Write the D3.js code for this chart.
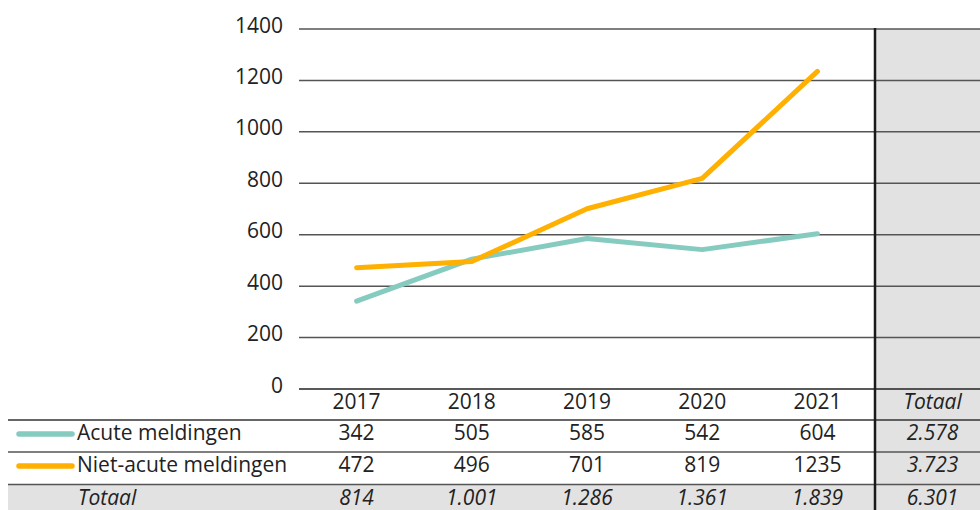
<!DOCTYPE html>
<html>
<head>
<meta charset="utf-8">
<script src="https://cdn.jsdelivr.net/npm/d3@7"></script>
<style>
  body { margin: 0; background: #fff; }
  svg { display: block; font-family: "Open Sans", "Noto Sans", sans-serif; }
</style>
</head>
<body>
<div id="chart"></div>
<script>
// Datos
const jaren = ["2017", "2018", "2019", "2020", "2021"];
const acute = [342, 505, 585, 542, 604];
const nietAcute = [472, 496, 701, 819, 1235];
const totaalPerJaar = ["814", "1.001", "1.286", "1.361", "1.839"];
const totaalAcute = "2.578";
const totaalNietAcute = "3.723";
const totaalAlles = "6.301";
const yTicks = [0, 200, 400, 600, 800, 1000, 1200, 1400];

const series = [
  { naam: "Acute meldingen", waarden: acute, totaal: totaalAcute, kleur: "#86cbc0" },
  { naam: "Niet-acute meldingen", waarden: nietAcute, totaal: totaalNietAcute, kleur: "#ffb000" }
];

const width = 980, height = 510;
const fs = 21;
const svg = d3.select("#chart").append("svg")
  .attr("width", width).attr("height", height);

const kolommen = [...jaren, "Totaal"];
const x = d3.scaleBand().domain(kolommen).range([299, 990.2]);
const y = d3.scaleLinear().domain([0, 1400]).range([389, 29]);

const tableLeft = 8;
const rijen = { header: 403, r1: 434, r2: 466, tot: 499 };

// grijze totaal-kolom
svg.append("rect")
  .attr("x", x("Totaal")).attr("y", y(1400))
  .attr("width", width - x("Totaal")).attr("height", height - y(1400))
  .attr("fill", "#e2e2e2");

// grijze totaal-rij
svg.append("rect")
  .attr("x", tableLeft).attr("y", 485)
  .attr("width", width - tableLeft).attr("height", height - 485)
  .attr("fill", "#e2e2e2");

// rasterlijnen
svg.append("g").selectAll("line").data(yTicks).join("line")
  .attr("x1", 299).attr("x2", width)
  .attr("y1", d => y(d)).attr("y2", d => y(d))
  .attr("stroke", d => d === 0 ? "#222" : "#555")
  .attr("stroke-width", 1.5);

// y-as labels
svg.append("g").selectAll("text").data(yTicks).join("text")
  .attr("x", 283).attr("y", d => y(d) - 2)
  .attr("text-anchor", "end").attr("dominant-baseline", "middle")
  .attr("font-size", fs).attr("fill", "#222")
  .text(d => d);

// tabel-lijnen
const tabelLijnen = [{ y: 420, c: "#333" }, { y: 452, c: "#555" }, { y: 484.5, c: "#555" }];
svg.append("g").selectAll("line").data(tabelLijnen).join("line")
  .attr("x1", tableLeft).attr("x2", width)
  .attr("y1", d => d.y).attr("y2", d => d.y)
  .attr("stroke", d => d.c).attr("stroke-width", 1.5);

// verticale lijn voor totaal
svg.append("line")
  .attr("x1", x("Totaal")).attr("x2", x("Totaal"))
  .attr("y1", y(1400) - 1).attr("y2", height)
  .attr("stroke", "#1a1a1a").attr("stroke-width", 2.5);

// lijnen
const cx = d => x(d) + x.bandwidth() / 2;
const line = d3.line()
  .x((d, i) => cx(jaren[i]))
  .y(d => y(d));

svg.append("g").selectAll("path").data(series).join("path")
  .attr("d", d => line(d.waarden))
  .attr("fill", "none")
  .attr("stroke", d => d.kleur)
  .attr("stroke-width", 5)
  .attr("stroke-linecap", "round")
  .attr("stroke-linejoin", "round");

// header
const tekst = (g, xPos, yPos, t, italic) => g.append("text")
  .attr("x", xPos).attr("y", yPos)
  .attr("text-anchor", "middle").attr("dominant-baseline", "middle")
  .attr("font-size", fs).attr("fill", "#222")
  .attr("font-style", italic ? "italic" : null)
  .text(t);

const tabel = svg.append("g");
jaren.forEach(j => tekst(tabel, cx(j), rijen.header, j, false));
tekst(tabel, cx("Totaal"), rijen.header, "Totaal", true);

// series rijen
[rijen.r1, rijen.r2].forEach((ry, si) => {
  const s = series[si];
  tabel.append("line")
    .attr("x1", 19).attr("x2", 72)
    .attr("y1", ry).attr("y2", ry)
    .attr("stroke", s.kleur).attr("stroke-width", 5.5)
    .attr("stroke-linecap", "round");
  tabel.append("text")
    .attr("x", 77).attr("y", ry)
    .attr("dominant-baseline", "middle")
    .attr("font-size", fs).attr("fill", "#222")
    .text(s.naam);
  s.waarden.forEach((v, i) => tekst(tabel, cx(jaren[i]), ry, v, false));
  tekst(tabel, cx("Totaal"), ry, s.totaal, true);
});

// totaal rij
tabel.append("text")
  .attr("x", 78).attr("y", rijen.tot)
  .attr("dominant-baseline", "middle")
  .attr("font-size", fs).attr("fill", "#222").attr("font-style", "italic")
  .text("Totaal");
totaalPerJaar.forEach((v, i) => tekst(tabel, cx(jaren[i]), rijen.tot, v, true));
tekst(tabel, cx("Totaal"), rijen.tot, totaalAlles, true);
</script>
</body>
</html>
